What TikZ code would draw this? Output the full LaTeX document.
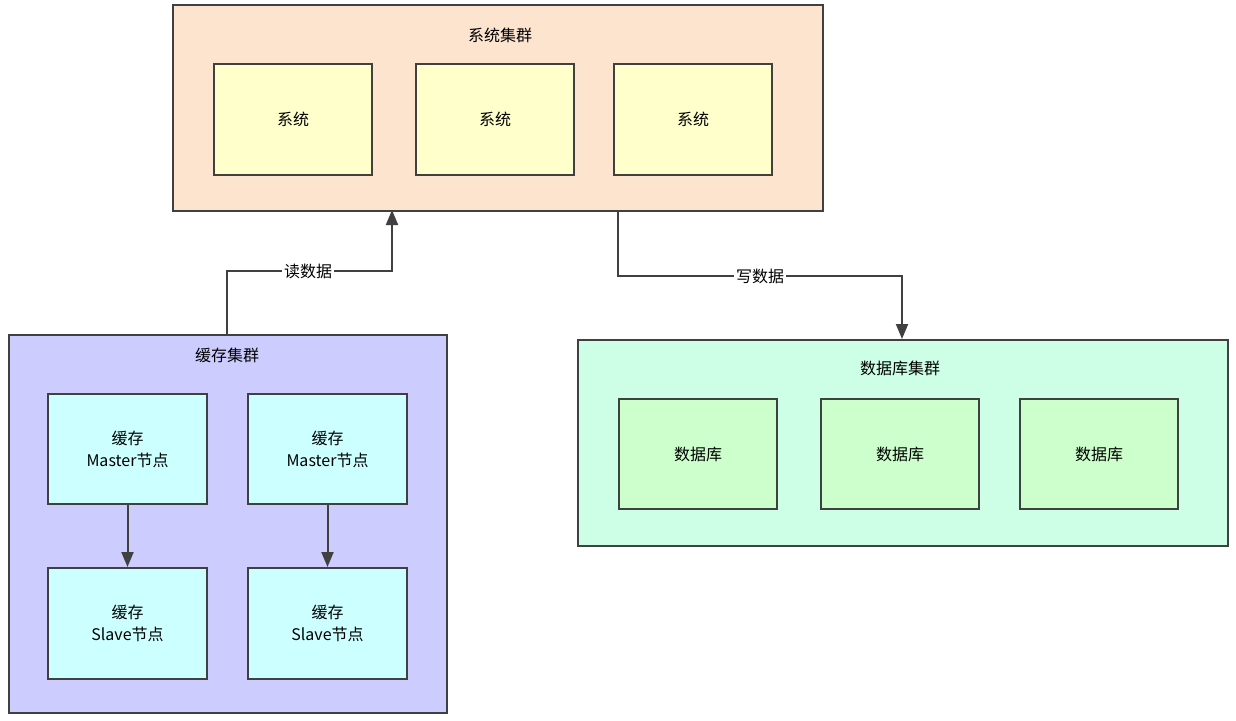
\documentclass[tikz,border=0pt]{standalone}
\usepackage{fontspec}
\setmainfont{Noto Sans CJK SC}
\usetikzlibrary{arrows.meta}
\begin{document}
\begin{tikzpicture}[x=1pt,y=-1pt,
 box/.style={draw=black!75,line width=2pt,anchor=north west,inner sep=0pt},
 cl/.style={box},
 inbox/.style={box,font=\fontsize{16}{22}\selectfont,align=center},
 tt/.style={font=\fontsize{16}{18}\selectfont},
 arr/.style={draw=black!75,line width=2pt,-{Triangle[length=15pt,width=12pt]}},
 lab/.style={fill=white,inner sep=2pt,font=\fontsize{16}{18}\selectfont}]
\useasboundingbox (0,0) rectangle (1236,720);
\definecolor{peach}{HTML}{FCE4CF}\definecolor{sysc}{HTML}{FFFFCC}
\definecolor{cachec}{HTML}{CCCCFF}\definecolor{cnode}{HTML}{CCFFFF}
\definecolor{dbc}{HTML}{CCFFE6}\definecolor{dbn}{HTML}{CCFFCC}
\node[cl,fill=peach,minimum width=650pt,minimum height=206pt] (sys) at (172,4) {};
\node[tt] (syst) at (500,35) {系统集群};
\foreach \x/\n in {213/s1,415/s2,613/s3}
 \node[inbox,fill=sysc,minimum width=158pt,minimum height=111pt] (\n) at (\x,63) {系统};
\node[cl,fill=cachec,minimum width=438pt,minimum height=378pt] (cache) at (8,334) {};
\node[tt] (cachet) at (227,355) {缓存集群};
\foreach \x/\n in {47/m1,247/m2}
 \node[inbox,fill=cnode,minimum width=159pt,minimum height=110pt] (\n) at (\x,393) {缓存\\Master节点};
\foreach \x/\n in {47/l1,247/l2}
 \node[inbox,fill=cnode,minimum width=159pt,minimum height=111pt] (\n) at (\x,567) {缓存\\Slave节点};
\node[cl,fill=dbc,minimum width=650pt,minimum height=206pt] (db) at (577,339) {};
\node[tt] (dbt) at (900,368) {数据库集群};
\foreach \x/\n in {618/d1,820/d2,1019/d3}
 \node[inbox,fill=dbn,minimum width=158pt,minimum height=110pt] (\n) at (\x,398) {数据库};
\draw[arr] (m1) -- (l1);
\draw[arr] (m2) -- (l2);
\coordinate (ra) at (227,334); \coordinate (rb) at (392,210);
\coordinate (wa) at (618,210); \coordinate (wb) at (902,339);
\draw[arr] (ra) |- (rb|-0,271) -- (rb);
\draw[arr] (wa) |- (wb|-0,276) -- (wb);
\node[lab] (rl) at (308,271) {读数据};
\node[lab] (wl) at (760,276) {写数据};
\end{tikzpicture}
\end{document}
